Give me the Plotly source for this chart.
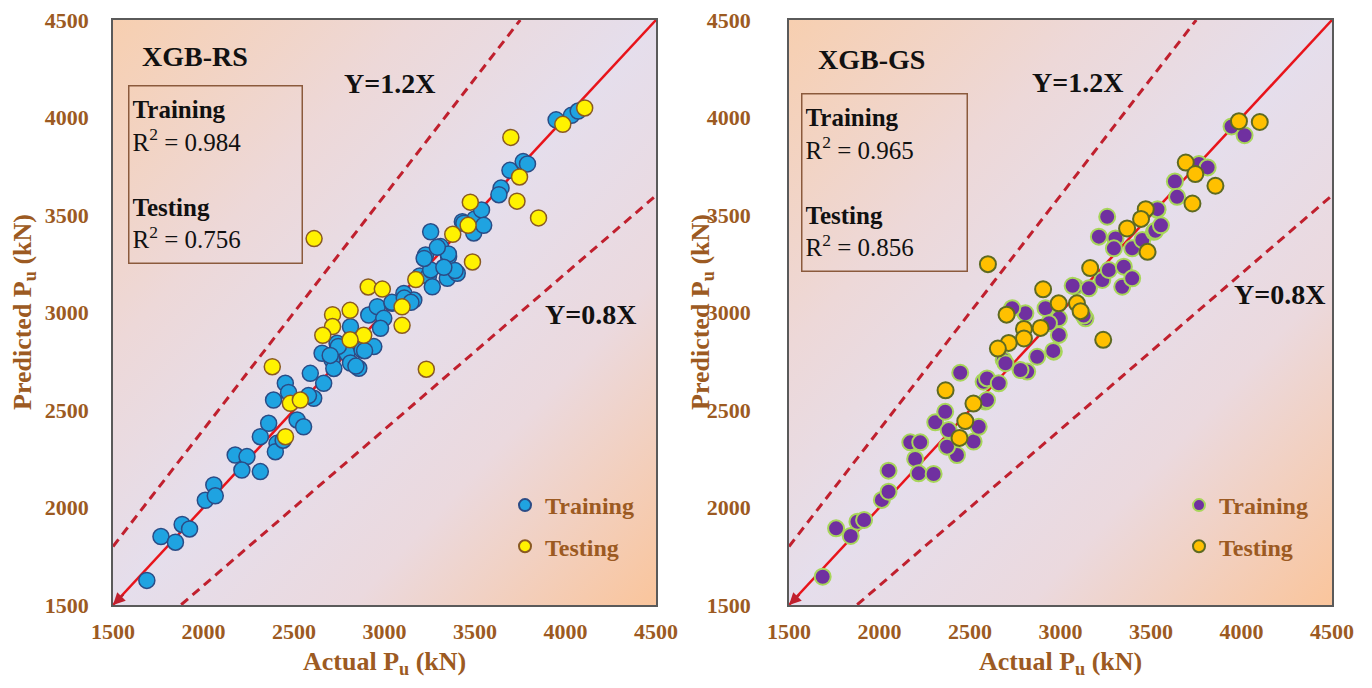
import base64
import plotly.graph_objects as go

# ---------------- data ----------------
rs_train_x = [1687, 1765, 1845, 1882, 1923, 2010, 2057, 2065, 2175, 2240, 2212, 2314, 2314, 2360, 2406,
              2397, 2440, 2517, 2553, 2387, 2452, 2470, 2590, 2609, 2664, 2655, 2710, 2738, 2793, 2858,
              2812, 2812, 2876, 2941, 2913, 2960, 2996, 2978, 3042, 3107, 3162, 3195, 3243, 3264, 3255,
              3227, 3255, 3310, 3354, 3347, 3402, 3390, 3353, 3430, 3493, 3499, 3536, 3548, 3644, 3632,
              3693, 3766, 3790, 3948, 4033, 4070, 2720, 2745, 2842, 2890, 3041, 3109, 3146, 3219, 3292,
              3328, 3438, 2580, 2700]
rs_train_y = [1626, 1851, 1822, 1913, 1890, 2037, 2116, 2060, 2269, 2261, 2192, 2184, 2363, 2432, 2329,
              2286, 2345, 2449, 2414, 2551, 2637, 2590, 2688, 2560, 2637, 2791, 2756, 2842, 2791, 2714,
              2741, 2927, 2808, 2825, 2987, 3030, 2970, 2919, 3047, 3098, 3064, 3187, 3187, 3132, 3218,
              3295, 3414, 3338, 3286, 3175, 3201, 3215, 3300, 3466, 3408, 3480, 3526, 3447, 3638, 3604,
              3729, 3774, 3762, 3988, 4011, 4033, 2713, 2826, 2725, 2804, 3052, 3074, 3052, 3277, 3334,
              3232, 3458, 2574, 2780]
rs_test_x = [4106, 3985, 3698, 3746, 3732, 3851, 3474, 3462, 3377, 3486, 2611, 3173, 2910, 2988,
             3097, 3097, 2713, 2810, 2713, 2659, 2885, 2810, 2380, 3231, 2480, 2535, 2453]
rs_test_y = [4049, 3965, 3898, 3695, 3571, 3485, 3566, 3447, 3401, 3259, 3379, 3169, 3131, 3120,
             3029, 2934, 2989, 3011, 2928, 2883, 2883, 2860, 2722, 2709, 2534, 2551, 2363]

gs_train_x = [1686, 1760, 1841, 1878, 1915, 2013, 2050, 2050, 2170, 2225, 2197, 2216, 2299, 2308,
              2363, 2382, 2428, 2373, 2520, 2548, 2585, 2575, 2446, 2594, 2659, 2594, 2686, 2816,
              2871, 2963, 2991, 2806, 2733, 2917, 2991, 2936, 3138, 3083, 3157, 3231, 3267, 3350,
              3341, 3396, 3212, 3304, 3258, 3295, 3396, 3452, 3516, 3535, 2696, 2779, 3632, 3644,
              3765, 3813, 3945, 4017, 3536, 3524, 3555, 3067, 3128, 2960]
gs_train_y = [1645, 1893, 1854, 1927, 1936, 2039, 2081, 2189, 2334, 2334, 2249, 2175, 2172, 2437,
              2491, 2397, 2269, 2312, 2338, 2414, 2543, 2645, 2691, 2662, 2637, 2551, 2757, 2697,
              2773, 2799, 2885, 2996, 3022, 3022, 2970, 2945, 2970, 3132, 3124, 3167, 3218, 3235,
              3132, 3175, 3389, 3380, 3491, 3329, 3329, 3372, 3414, 3526, 2740, 2705, 3672, 3593,
              3762, 3744, 3954, 3909, 3530, 3419, 3447, 3137, 2984, 2803]
gs_test_x = [3986, 4101, 3692, 3745, 3856, 3729, 3471, 3445, 3368, 3481, 2599, 3164, 2904, 2990,
             3091, 3111, 2702, 2798, 2890, 2798, 2714, 2654, 3236, 2365, 2519, 2474, 2442]
gs_test_y = [3981, 3977, 3769, 3710, 3650, 3559, 3530, 3480, 3431, 3311, 3248, 3228, 3119, 3047,
             3047, 3007, 2989, 2916, 2921, 2867, 2844, 2815, 2860, 2601, 2533, 2443, 2357]

axis_range = [1500, 4500]
tick_vals = [1500, 2000, 2500, 3000, 3500, 4000, 4500]
ratio_hi, ratio_lo = 1.2, 0.8
panel_titles = ["XGB-RS", "XGB-GS"]
r2_train = ["0.984", "0.965"]
r2_test = ["0.756", "0.856"]
x_title = "Actual P<sub>u</sub> (kN)"
y_title = "Predicted P<sub>u</sub> (kN)"

# ---------------- styles ----------------
SERIF = "Liberation Serif, Times New Roman, serif"
BROWN = "#9C5A22"
PAGE_OFF = 8            # default body margin of the html page
W, H = 1372 - 2 * PAGE_OFF, 688 - 2 * PAGE_OFF

def px_x(p):
    return (p - PAGE_OFF) / W

def px_y(p):
    return 1 - (p - PAGE_OFF) / H

y_dom = [px_y(605), px_y(20)]
x_doms = [[px_x(113), px_x(656)], [px_x(789), px_x(1332)]]

fig = go.Figure()

styles = [
    dict(train=dict(color="#1FA3E1", line=dict(color="#2B4C86", width=1.5)),
         test=dict(color="#FFF200", line=dict(color="#8A5A22", width=1.5))),
    dict(train=dict(color="#7030A0", line=dict(color="#A8D65A", width=2)),
         test=dict(color="#FFC000", line=dict(color="#5E6A22", width=2))),
]
datasets = [
    (rs_train_x, rs_train_y, rs_test_x, rs_test_y),
    (gs_train_x, gs_train_y, gs_test_x, gs_test_y),
]

for i in range(2):
    xa = "x" if i == 0 else "x2"
    ya = "y" if i == 0 else "y2"
    lg = "legend" if i == 0 else "legend2"
    x_end_hi = axis_range[1] / ratio_hi
    fig.add_trace(go.Scatter(x=[axis_range[0], x_end_hi],
                             y=[axis_range[0] * ratio_hi, axis_range[1]],
                             mode="lines", line=dict(color="#C0202E", width=3, dash="9px,6px"),
                             xaxis=xa, yaxis=ya, showlegend=False, hoverinfo="skip"))
    fig.add_trace(go.Scatter(x=[axis_range[0], axis_range[1]],
                             y=[axis_range[0] * ratio_lo, axis_range[1] * ratio_lo],
                             mode="lines", line=dict(color="#C0202E", width=3, dash="9px,6px"),
                             xaxis=xa, yaxis=ya, showlegend=False, hoverinfo="skip"))
    fig.add_trace(go.Scatter(x=axis_range, y=axis_range, mode="lines",
                             line=dict(color="#E8141B", width=2.5),
                             xaxis=xa, yaxis=ya, showlegend=False, hoverinfo="skip"))
    trx, try_, tex, tey = datasets[i]
    fig.add_trace(go.Scatter(x=trx, y=try_, mode="markers", name="Training",
                             marker=dict(size=16, **styles[i]["train"]),
                             xaxis=xa, yaxis=ya, legend=lg, legendgroup=f"a{i}"))
    fig.add_trace(go.Scatter(x=tex, y=tey, mode="markers", name="Testing",
                             marker=dict(size=16, **styles[i]["test"]),
                             xaxis=xa, yaxis=ya, legend=lg, legendgroup=f"b{i}"))

axis_common = dict(range=axis_range, tickvals=tick_vals, showgrid=False, zeroline=False,
                   showline=True, mirror=True, linecolor="#5A5A5A", linewidth=1.5,
                   tickfont=dict(family=SERIF, size=22, color=BROWN, weight="bold"),
                   ticks="", fixedrange=True, automargin=False, ticklabeloverflow="allow")

legend_font = dict(family=SERIF, size=24, color=BROWN, weight="bold")

fig.update_layout(
    width=W, height=H,
    margin=dict(l=0, r=0, t=0, b=0, autoexpand=False),
    paper_bgcolor="white", plot_bgcolor="#E5DEEC",
    xaxis=dict(domain=x_doms[0], anchor="y", ticklabelstandoff=6, **axis_common),
    yaxis=dict(domain=y_dom, anchor="x", ticklabelstandoff=18, **axis_common),
    xaxis2=dict(domain=x_doms[1], anchor="y2", ticklabelstandoff=6, **axis_common),
    yaxis2=dict(domain=y_dom, anchor="x2", ticklabelstandoff=32, **axis_common),
    legend=dict(x=px_x(505), y=px_y(483), xanchor="left", yanchor="top", itemwidth=30,
                bgcolor="rgba(0,0,0,0)", itemsizing="constant", tracegroupgap=7,
                font=legend_font),
    legend2=dict(x=px_x(1179), y=px_y(483), xanchor="left", yanchor="top", itemwidth=30,
                 bgcolor="rgba(0,0,0,0)", itemsizing="constant", tracegroupgap=7,
                 font=legend_font),
)

# gradient background (SVG image, decoration only)
svg = ('<svg xmlns="http://www.w3.org/2000/svg" width="200" height="200" viewBox="0 0 200 200" '
       'preserveAspectRatio="none"><defs><linearGradient id="g" x1="0" y1="0" x2="1" y2="1">'
       '<stop offset="0" stop-color="#F7CFB0"/>'
       '<stop offset="0.28" stop-color="#EDD8D8"/>'
       '<stop offset="0.5" stop-color="#E5DEEC"/>'
       '<stop offset="0.72" stop-color="#EBD9DE"/>'
       '<stop offset="1" stop-color="#FAC59C"/>'
       '</linearGradient></defs><rect width="200" height="200" fill="url(#g)"/></svg>')
src = "data:image/svg+xml;base64," + base64.b64encode(svg.encode()).decode()
for i in range(2):
    sx = "x" if i == 0 else "x2"
    sy = "y" if i == 0 else "y2"
    fig.add_layout_image(dict(source=src, xref=f"{sx} domain", yref=f"{sy} domain", x=0, y=1,
                              sizex=1, sizey=1, xanchor="left", yanchor="top",
                              sizing="stretch", layer="below"))

# axis titles as paper annotations
title_font = dict(family=SERIF, size=26, color=BROWN, weight="bold")
y_title_x = [24, 702]
for i in range(2):
    fig.add_annotation(xref="paper", yref="paper", x=sum(x_doms[i]) / 2, y=px_y(663),
                       xanchor="center", yanchor="middle", showarrow=False,
                       text=x_title, font=title_font)
    fig.add_annotation(xref="paper", yref="paper", x=px_x(y_title_x[i]), y=px_y(312),
                       xanchor="center", yanchor="middle", showarrow=False, textangle=-90,
                       text=y_title, font=title_font)

# in-panel annotations
box_pos = [(0.028, 0.889, 166), (0.022, 0.875, 158)]
label_pos = [((0.05, 0.937), (0.51, 0.892), (0.88, 0.496)),
             ((0.05, 0.933), (0.531, 0.894), (0.904, 0.53))]
for i in range(2):
    sx = "x" if i == 0 else "x2"
    sy = "y" if i == 0 else "y2"
    (tx, ty), (hx, hy), (lx, ly) = label_pos[i]
    fig.add_annotation(xref=f"{sx} domain", yref=f"{sy} domain", x=tx, y=ty,
                       xanchor="left", yanchor="middle", showarrow=False,
                       text=f"<b>{panel_titles[i]}</b>",
                       font=dict(family=SERIF, size=28, color="#111111"))
    fig.add_annotation(xref=f"{sx} domain", yref=f"{sy} domain", x=hx, y=hy,
                       xanchor="center", yanchor="middle", showarrow=False,
                       text=f"<b>Y={ratio_hi}X</b>",
                       font=dict(family=SERIF, size=28, color="#111111"))
    fig.add_annotation(xref=f"{sx} domain", yref=f"{sy} domain", x=lx, y=ly,
                       xanchor="center", yanchor="middle", showarrow=False,
                       text=f"<b>Y={ratio_lo}X</b>",
                       font=dict(family=SERIF, size=28, color="#111111"))
    bx, by, bw = box_pos[i]
    fig.add_annotation(xref=f"{sx} domain", yref=f"{sy} domain", x=bx, y=by,
                       xanchor="left", yanchor="top", showarrow=False, align="left",
                       width=bw, height=170, valign="middle",
                       bordercolor="#8B5A3C", borderwidth=1.5, borderpad=3,
                       text=(f"<b>Training</b><br>R<sup>2</sup> = {r2_train[i]}<br> <br>"
                             f"<b>Testing</b><br>R<sup>2</sup> = {r2_test[i]}"),
                       font=dict(family=SERIF, size=25, color="#111111"))
    # small arrowhead where the guide lines meet
    fig.add_annotation(xref=sx, yref=sy, x=axis_range[0], y=axis_range[0], text="",
                       showarrow=True, arrowhead=2, arrowsize=1.2, arrowwidth=2,
                       arrowcolor="#C0202E", ax=12, ay=-12)

fig.write_html("out.html")
